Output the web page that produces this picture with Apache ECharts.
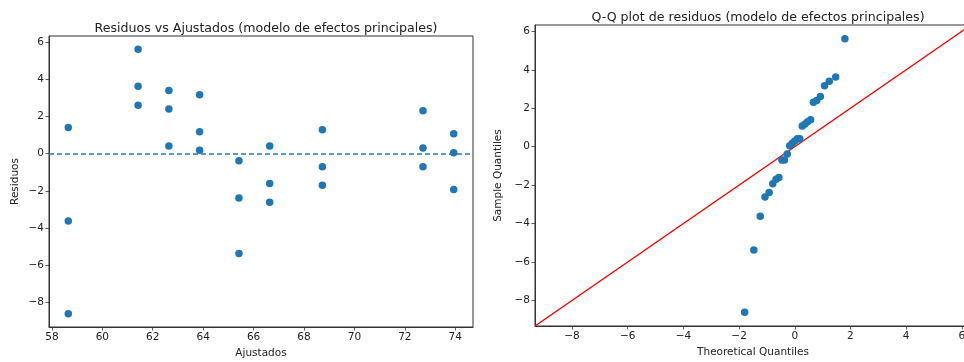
<!DOCTYPE html>
<html>
<head>
<meta charset="utf-8">
<script src="https://cdn.jsdelivr.net/npm/echarts@6/dist/echarts.min.js"></script>
<style>
  html, body { margin: 0; padding: 0; background: #fff; overflow: hidden; }
  /* the Q-Q panel runs slightly past the right edge of the page */
  #chart { width: 990px; height: 362px; }
</style>
</head>
<body>
<div id="chart"></div>
<script>
// Fitted values of the main-effects model (one per cell, three residuals each)
const fittedLevels = [58.65, 61.42, 62.64, 63.86, 65.42, 66.64, 68.73, 72.72, 73.94];
const residualsByLevel = [
  [1.40, -3.62, -8.62],
  [5.62, 3.62, 2.61],
  [3.40, 2.40, 0.41],
  [3.17, 1.18, 0.18],
  [-0.38, -2.39, -5.37],
  [0.41, -1.61, -2.62],
  [1.29, -0.70, -1.70],
  [2.31, 0.30, -0.70],
  [1.07, 0.05, -1.93]
];

// Q-Q plot: theoretical normal quantiles and ordered residuals
const qqTheoretical = [-1.80, -1.47, -1.24, -1.07, -0.92, -0.79, -0.67, -0.57, -0.46, -0.37, -0.27, -0.18, -0.09, 0.00,
                       0.09, 0.18, 0.27, 0.37, 0.46, 0.57, 0.67, 0.79, 0.92, 1.07, 1.24, 1.47, 1.80];
const qqSample = [-8.62, -5.37, -3.62, -2.62, -2.39, -1.93, -1.70, -1.61, -0.70, -0.70, -0.38, 0.05, 0.18, 0.30,
                  0.41, 0.41, 1.07, 1.18, 1.29, 1.40, 2.31, 2.40, 2.61, 3.17, 3.40, 3.62, 5.62];

// Axis limits and tick labels
const leftXRange = [57.885, 74.705];
const leftYRange = [-9.33, 6.33];
const qqRange = [-9.33, 6.33];
const leftXTicks = [58, 60, 62, 64, 66, 68, 70, 72, 74];
const residualTicks = [-8, -6, -4, -2, 0, 2, 4, 6];
const qqTicks = [-8, -6, -4, -2, 0, 2, 4, 6];
const refLine = [[qqRange[0], qqRange[0]], [qqRange[1], qqRange[1]]];

const scatterData = [];
fittedLevels.forEach((f, i) => residualsByLevel[i].forEach(r => scatterData.push([f, r])));
const qqData = qqTheoretical.map((t, i) => [t, qqSample[i]]);

const FONT = 'DejaVu Sans';
const BLUE = '#1f77b4';
const INK = '#222';
const SPINE = '#333';
const fmt = v => (v < 0 ? '\u2212' + Math.abs(v) : String(v));

function axis(range, ticks, extra) {
  return Object.assign({
    type: 'value',
    min: range[0],
    max: range[1],
    splitLine: { show: false },
    axisLine: { show: true, onZero: false, lineStyle: { color: SPINE, width: 1 } },
    axisTick: { show: true, inside: false, length: 3.5, customValues: ticks, lineStyle: { color: SPINE, width: 0.8 } },
    axisLabel: { customValues: ticks, formatter: fmt, color: INK, fontFamily: FONT, fontSize: 10.5, margin: 5 },
    nameLocation: 'middle',
    nameTextStyle: { color: INK, fontFamily: FONT, fontSize: 10.5 }
  }, extra);
}

const chart = echarts.init(document.getElementById('chart'), null, { renderer: 'canvas' });
chart.setOption({
  animation: false,
  backgroundColor: '#fff',
  title: [
    { text: 'Residuos vs Ajustados (modelo de efectos principales)', left: 261, top: 17, textAlign: 'center',
      textStyle: { fontFamily: FONT, fontSize: 12.6, fontWeight: 'normal', color: INK } },
    { text: 'Q-Q plot de residuos (modelo de efectos principales)', left: 753, top: 6, textAlign: 'center',
      textStyle: { fontFamily: FONT, fontSize: 12.6, fontWeight: 'normal', color: INK } }
  ],
  grid: [
    { left: 49, top: 36, width: 424, height: 291, outerBoundsMode: 'none', containLabel: false,
      show: true, borderColor: SPINE, borderWidth: 1, backgroundColor: 'transparent' },
    { left: 535, top: 25, width: 436, height: 301, outerBoundsMode: 'none', containLabel: false,
      show: true, borderColor: SPINE, borderWidth: 1, backgroundColor: 'transparent' }
  ],
  xAxis: [
    axis(leftXRange, leftXTicks, { gridIndex: 0, name: 'Ajustados', nameGap: 21 }),
    axis(qqRange, qqTicks, { gridIndex: 1, name: 'Theoretical Quantiles', nameGap: 21 })
  ],
  yAxis: [
    axis(leftYRange, residualTicks, { gridIndex: 0, name: 'Residuos', nameGap: 28 }),
    axis(qqRange, qqTicks, { gridIndex: 1, name: 'Sample Quantiles', nameGap: 31 })
  ],
  series: [
    {
      type: 'scatter', xAxisIndex: 0, yAxisIndex: 0, data: scatterData,
      symbolSize: 7.5, itemStyle: { color: BLUE, opacity: 1 },
      markLine: {
        silent: true, symbol: ['none', 'none'], label: { show: false },
        lineStyle: { color: BLUE, type: [5, 3], width: 1.5 },
        data: [{ yAxis: 0 }]
      }
    },
    {
      type: 'line', xAxisIndex: 1, yAxisIndex: 1, data: refLine,
      showSymbol: false, lineStyle: { color: '#ff0000', width: 1.5 }, z: 1
    },
    {
      type: 'scatter', xAxisIndex: 1, yAxisIndex: 1, data: qqData,
      symbolSize: 7.5, itemStyle: { color: BLUE, opacity: 1 }, z: 3
    }
  ]
});
</script>
</body>
</html>
